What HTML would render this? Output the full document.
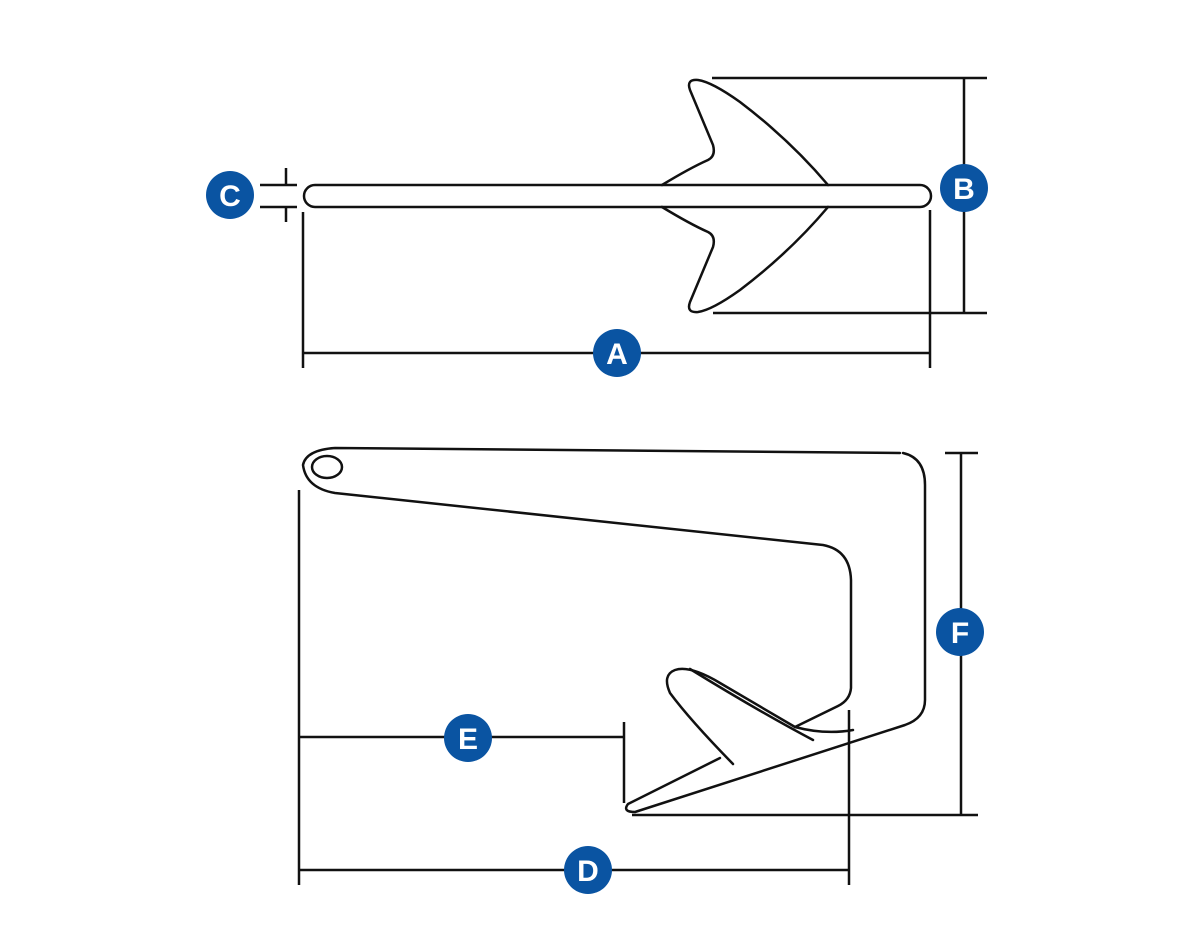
<!DOCTYPE html>
<html><head><meta charset="utf-8"><style>
html,body{margin:0;padding:0;background:#fff;}
svg{display:block;}
text{font-family:"Liberation Sans",sans-serif;font-weight:bold;font-size:30px;fill:#fff;text-anchor:middle;}
</style></head><body>
<svg width="1200" height="950" viewBox="0 0 1200 950" xmlns="http://www.w3.org/2000/svg">
<g fill="none" stroke="#111" stroke-width="2.5" stroke-linecap="round" stroke-linejoin="round">
<!-- top anchor shaft -->
<path d="M315 185 L920 185 A11 11 0 0 1 920 207 L315 207 A11 11 0 0 1 315 185 Z"/>
<!-- upper fin -->
<path d="M662 185 Q690 168 708 160 Q716 156 713 145 L690 90 Q686 79 698 80 Q712 82 740 102 Q790 140 828 185"/>
<!-- lower fin -->
<path d="M662 207 Q690 224 708 232 Q716 236 713 247 L690 302 Q686 313 698 312 Q712 310 740 290 Q790 252 828 207"/>
</g>
<g fill="none" stroke="#111" stroke-width="2.5">
<!-- B -->
<line x1="712" y1="78" x2="987" y2="78"/>
<line x1="713" y1="313" x2="987" y2="313"/>
<line x1="964" y1="78" x2="964" y2="313"/>
<!-- A -->
<line x1="930" y1="210" x2="930" y2="368"/>
<line x1="303" y1="212" x2="303" y2="368"/>
<line x1="303" y1="353" x2="930" y2="353"/>
<!-- C -->
<line x1="260" y1="185" x2="297" y2="185"/>
<line x1="260" y1="207" x2="297" y2="207"/>
<line x1="286" y1="168" x2="286" y2="185"/>
<line x1="286" y1="207" x2="286" y2="222"/>
</g>
<!-- bottom anchor -->
<g fill="none" stroke="#111" stroke-width="2.5" stroke-linecap="round" stroke-linejoin="round">
<ellipse cx="327" cy="467" rx="15" ry="11"/>
<path d="M900 453 L335 448 Q306 450 303 465 Q306 488 335 493 L823 545 Q850 550 851 580 L851 688 Q850 700 838 706 L795 727"/>
<path d="M903 453 Q925 458 925 485 L925 700 Q925 718 905 725 L635 812 Q622 812 628 804 L720 758"/>
<path d="M733 764 Q690 720 670 693 Q662 675 675 670 Q690 665 720 683 L795 727 Q825 735 853 730"/>
<path d="M690 669 Q760 712 813 740"/>
</g>
<g fill="none" stroke="#111" stroke-width="2.5">
<!-- D -->
<line x1="299" y1="490" x2="299" y2="885"/>
<line x1="849" y1="710" x2="849" y2="885"/>
<line x1="299" y1="870" x2="849" y2="870"/>
<!-- E -->
<line x1="299" y1="737" x2="624" y2="737"/>
<line x1="624" y1="722" x2="624" y2="803"/>
<!-- F -->
<line x1="961" y1="453" x2="961" y2="815"/>
<line x1="945" y1="453" x2="978" y2="453"/>
<line x1="632" y1="815" x2="978" y2="815"/>
</g>
<g fill="#0a54a2">
<circle cx="230" cy="195" r="24"/>
<circle cx="964" cy="188" r="24"/>
<circle cx="617" cy="353" r="24"/>
<circle cx="960" cy="632" r="24"/>
<circle cx="468" cy="738" r="24"/>
<circle cx="588" cy="870" r="24"/>
</g>
<text x="230" y="206">C</text>
<text x="964" y="199">B</text>
<text x="617" y="364">A</text>
<text x="960" y="643">F</text>
<text x="468" y="749">E</text>
<text x="588" y="881">D</text>
</svg>
</body></html>
